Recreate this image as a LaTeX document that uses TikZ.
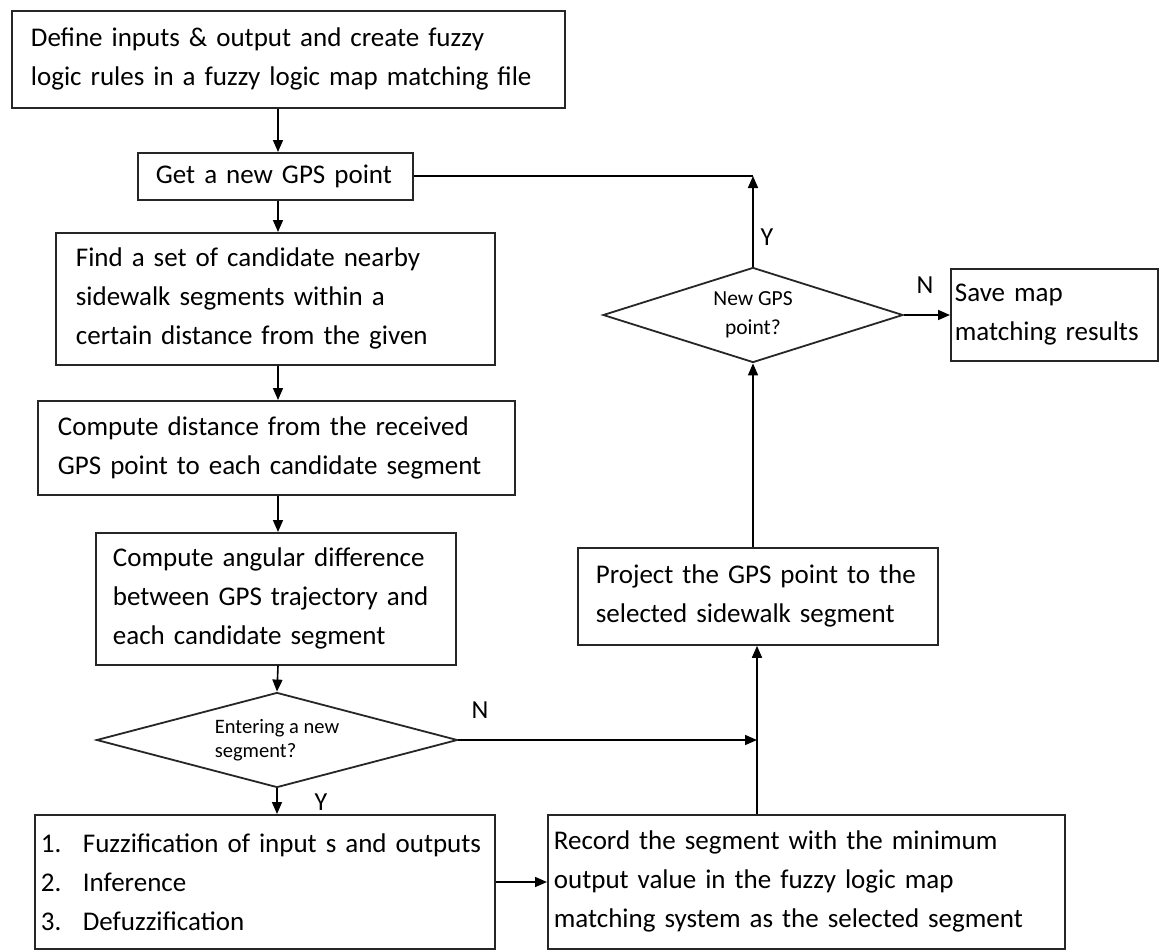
\documentclass[tikz,border=0pt]{standalone}
\usepackage{fontspec}
\setmainfont{Carlito}
\usetikzlibrary{arrows.meta,shapes.geometric}

% one unbreakable text line inside a box
\newcommand{\tline}[1]{\mbox{#1}}

\begin{document}
\begin{tikzpicture}[x=1pt,y=-1pt,
  box/.style={draw=black!85, line width=1.8pt, fill=white, anchor=north west,
    align=left, inner ysep=0pt, font=\fontsize{27}{39}\selectfont},
  dec/.style={draw=black!85, line width=1.8pt, fill=white, shape=diamond, inner sep=0pt},
  flow/.style={line width=1.6pt, -{Triangle[length=12pt,width=10pt]}},
  plain/.style={line width=1.6pt},
  lbl/.style={font=\fontsize{26}{30}\selectfont}]

\fill[white] (0,0) rectangle (1163,950);
\useasboundingbox (0,0) rectangle (1163,950);

% left column
\node[box, inner xsep=19pt, text width=515pt, minimum height=97pt] (b1) at (11,10)
  {\tline{Define inputs \& output  and create fuzzy}\\\tline{logic rules in a fuzzy  logic map matching file}};
\node[box, inner xsep=18pt, text width=239pt, minimum height=47pt] (b2) at (137,152)
  {\tline{Get a new  GPS point}};
\node[box, inner xsep=20pt, text width=399pt, minimum height=132pt] (b3) at (55,232)
  {\tline{Find a set of candidate nearby}\\\tline{sidewalk segments within  a}\\\tline{certain distance from the  given}};
\node[box, inner xsep=20pt, text width=437pt, minimum height=94pt] (b4) at (37,400)
  {\tline{Compute distance from the received}\\\tline{GPS point to each candidate segment}};
\node[box, inner xsep=17pt, text width=326pt, minimum height=132pt] (b5) at (95,532)
  {\tline{Compute angular difference}\\\tline{between GPS trajectory and}\\\tline{each candidate segment}};
\node[dec, minimum width=361pt, minimum height=95pt, aspect=3.8, align=left,
  font=\fontsize{20.5}{24}\selectfont] (d1) at (277,740) {Entering a new\\segment?};
\node[box, inner xsep=6pt, text width=448pt, minimum height=134pt] (b6) at (34,814)
  {\tline{\makebox[42pt][l]{1.}Fuzzification of input s and outputs}\\
   \tline{\makebox[42pt][l]{2.}Inference}\\
   \tline{\makebox[42pt][l]{3.}Defuzzification}};

% right column
\node[box, inner xsep=6pt, text width=505pt, minimum height=134pt] (b7) at (547,814)
  {\tline{Record the segment with the  minimum}\\\tline{output value in the  fuzzy logic map}\\\tline{matching system as the  selected segment}};
\node[box, inner xsep=18pt, text width=324pt, minimum height=97pt] (b8) at (577,547)
  {\tline{Project the GPS point to the}\\\tline{selected sidewalk segment}};
\node[dec, minimum width=300pt, minimum height=95pt, aspect=3.16, align=center,
  font=\fontsize{21.5}{29}\selectfont] (d2) at (753,315) {New GPS\\point?};
\node[box, inner xsep=4pt, text width=199pt, minimum height=92pt] (save) at (950,268)
  {\tline{Save map}\\\tline{matching results}};

% routing points
\coordinate (trunk) at (278,0);
\coordinate (join) at (757,740);
\coordinate (corner) at (753,176);

% connectors
\draw[flow] (b1.south -| trunk) -- (b2.north -| trunk);
\draw[flow] (b2.south -| trunk) -- (b3.north -| trunk);
\draw[flow] (b3.south -| trunk) -- (b4.north -| trunk);
\draw[flow] (b4.south -| trunk) -- (b5.north -| trunk);
\draw[flow] (b5.south -| trunk) -- (d1.north);
\draw[flow] (d1.south) -- (b6.north -| d1.south);
\draw[flow] (d1.east) -- (join);
\draw[flow] (b6.east |- 0,882) -- (b7.west |- 0,882);
\draw[flow] (b7.north -| join) -- (b8.south -| join);
\draw[flow] (b8.north -| d2.south) -- (d2.south);
\draw[flow] (d2.north) -- (corner);
\draw[plain] (corner) -- (corner -| b2.east);
\draw[flow] (d2.east) -- (save.west |- d2.east);

% branch labels
\node[lbl] (y1) at (321,802) {Y};
\node[lbl] (n1) at (480,710) {N};
\node[lbl] (y2) at (767,237) {Y};
\node[lbl] (n2) at (925,285) {N};
\end{tikzpicture}
\end{document}
